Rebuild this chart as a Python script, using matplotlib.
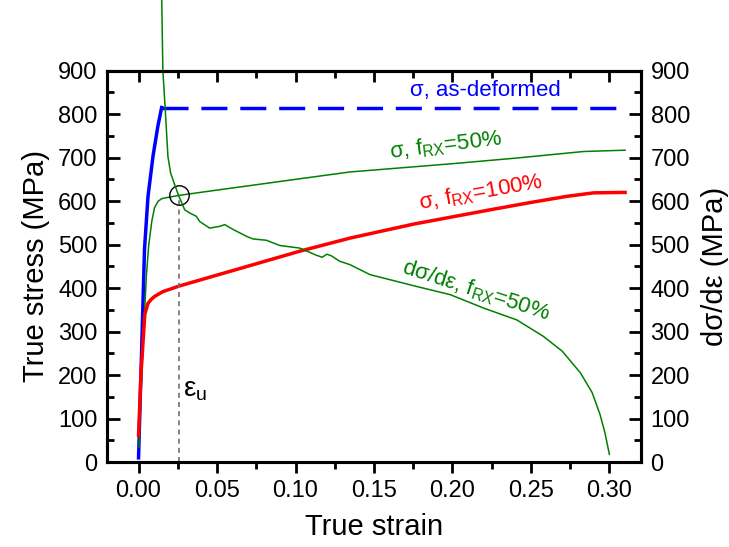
import numpy as np
import matplotlib.pyplot as plt

plt.rcParams['font.family'] = ['Liberation Sans', 'DejaVu Sans']
plt.rcParams['mathtext.fontset'] = 'custom'
plt.rcParams['mathtext.rm'] = 'Liberation Sans'
plt.rcParams['mathtext.default'] = 'regular'

# sigma, as-deformed (solid rise, then dashed plateau)
as_def_strain = [0.0, 0.0015, 0.0038, 0.006, 0.0092, 0.0123, 0.0147]
as_def_stress = [10, 200, 490, 610, 703, 772, 815]
plateau_strain = [0.0147, 0.31]
plateau_stress = [815, 815]

# sigma, f_RX = 50%
rx50_strain = [0.0003, 0.002, 0.0035, 0.005, 0.0065, 0.0085, 0.0102, 0.0125, 0.015,
               0.0255, 0.0453, 0.10, 0.1347, 0.20, 0.241, 0.2835, 0.31]
rx50_stress = [35, 200, 320, 430, 500, 555, 585, 600, 606,
               613, 623, 650, 667, 686, 699, 714, 717]

# sigma, f_RX = 100%
rx100_strain = [0.0, 0.0015, 0.004, 0.006, 0.008, 0.0102, 0.0155, 0.026, 0.05, 0.1028,
                0.1347, 0.175, 0.224, 0.25, 0.273, 0.29, 0.31]
rx100_stress = [62, 200, 340, 365, 374, 381, 392, 405, 430, 485,
                515, 547, 580, 597, 611, 619, 620]

# d sigma / d epsilon, f_RX = 50%
hard_strain = [0.0145, 0.0155, 0.0170, 0.0187, 0.0204, 0.0230, 0.0255, 0.0294, 0.0330,
               0.0368, 0.0390, 0.0453, 0.0517, 0.0549, 0.0602, 0.0688, 0.0730, 0.0815,
               0.0900, 0.1028, 0.108, 0.113, 0.117, 0.120, 0.123, 0.128, 0.1347, 0.1475,
               0.177, 0.1986, 0.220, 0.241, 0.258, 0.270, 0.2816, 0.289, 0.294, 0.297, 0.300]
hard_rate = [1120, 900, 811, 703, 665, 638, 613, 580, 572,
             565, 553, 538, 542, 546, 535, 519, 513, 510,
             498, 492, 484, 476, 471, 478, 474, 462, 454, 431,
             404, 385, 354, 327, 289, 255, 205, 160, 110, 70, 18]

eps_u = 0.0255
sigma_u = 613

fig = plt.figure(figsize=(7.29, 5.47), dpi=100)
ax = fig.add_axes([0.147, 0.155, 0.732, 0.716])
ax2 = ax.twinx()

ax.plot(as_def_strain, as_def_stress, color='#0000FF', lw=2.5)
ax.plot(plateau_strain, plateau_stress, color='#0000FF', lw=2.5, dashes=(7.5, 3.7))
ax.plot(rx50_strain, rx50_stress, color='#008000', lw=1.1)
ax.plot(rx100_strain, rx100_stress, color='#FF0000', lw=2.5)
ax2.plot(hard_strain, hard_rate, color='#008000', lw=1.1, clip_on=False)

ax.plot([eps_u, eps_u], [0, sigma_u], color='#707070', lw=1.2, dashes=(3, 2.5))
ax.plot([eps_u], [sigma_u], 'o', ms=14, mfc='none', mec='black', mew=1.0)

ax.text(0.221, 830, 'σ, as-deformed', color='#0000FF', fontsize=16,
        ha='center', va='bottom')
ax.text(0.196, 727, 'σ, f$_{RX}$=50%', color='#008000', fontsize=16,
        ha='center', va='center', rotation=7)
ax.text(0.218, 621, 'σ, f$_{RX}$=100%', color='#FF0000', fontsize=16,
        ha='center', va='center', rotation=10)
ax.text(0.215, 394, 'dσ/dε, f$_{RX}$=50%', color='#008000', fontsize=16,
        ha='center', va='center', rotation=-18)
ax.text(0.0283, 150, 'ε$_u$', color='black', fontsize=20, ha='left', va='baseline')

ax.set_xlim(-0.02, 0.32)
ax.set_ylim(0, 900)
ax2.set_ylim(0, 900)

ax.set_xticks(np.arange(0, 0.301, 0.05))
ax.set_xticks(np.arange(-0.0, 0.32, 0.025), minor=True)
ax.set_xticklabels(['%.2f' % v for v in np.arange(0, 0.301, 0.05)])
for a in (ax, ax2):
    a.set_yticks(np.arange(0, 901, 100))
    a.set_yticks(np.arange(0, 901, 50), minor=True)

ax.tick_params(axis='x', which='both', direction='out', top=False, width=2,
               labelsize=17, pad=5)
ax.tick_params(axis='x', which='major', length=8)
ax.tick_params(axis='x', which='minor', length=5)
ax.tick_params(axis='y', which='both', direction='in', width=2, labelsize=17, pad=7)
ax.tick_params(axis='y', which='major', length=9)
ax.tick_params(axis='y', which='minor', length=5)
ax2.tick_params(axis='y', which='both', direction='in', width=2, labelsize=17, pad=7)
ax2.tick_params(axis='y', which='major', length=9)
ax2.tick_params(axis='y', which='minor', length=5)

# top axis ticks pointing inward, no labels
top = ax.secondary_xaxis('top')
top.set_xticks(np.arange(0, 0.301, 0.05))
top.set_xticks(np.arange(0, 0.32, 0.025), minor=True)
top.tick_params(axis='x', which='both', direction='in', width=2, labeltop=False)
top.tick_params(axis='x', which='major', length=8)
top.tick_params(axis='x', which='minor', length=5)
top.spines['top'].set_linewidth(2.2)

for s in ax.spines.values():
    s.set_linewidth(2.2)
for s in ax2.spines.values():
    s.set_linewidth(2.2)

ax.set_xlabel('True strain', fontsize=21, labelpad=8)
ax.set_ylabel('True stress (MPa)', fontsize=21, labelpad=6)
ax2.set_ylabel('dσ/dε (MPa)', fontsize=21, rotation=90, labelpad=8)

fig.savefig('out.png', dpi=100)
